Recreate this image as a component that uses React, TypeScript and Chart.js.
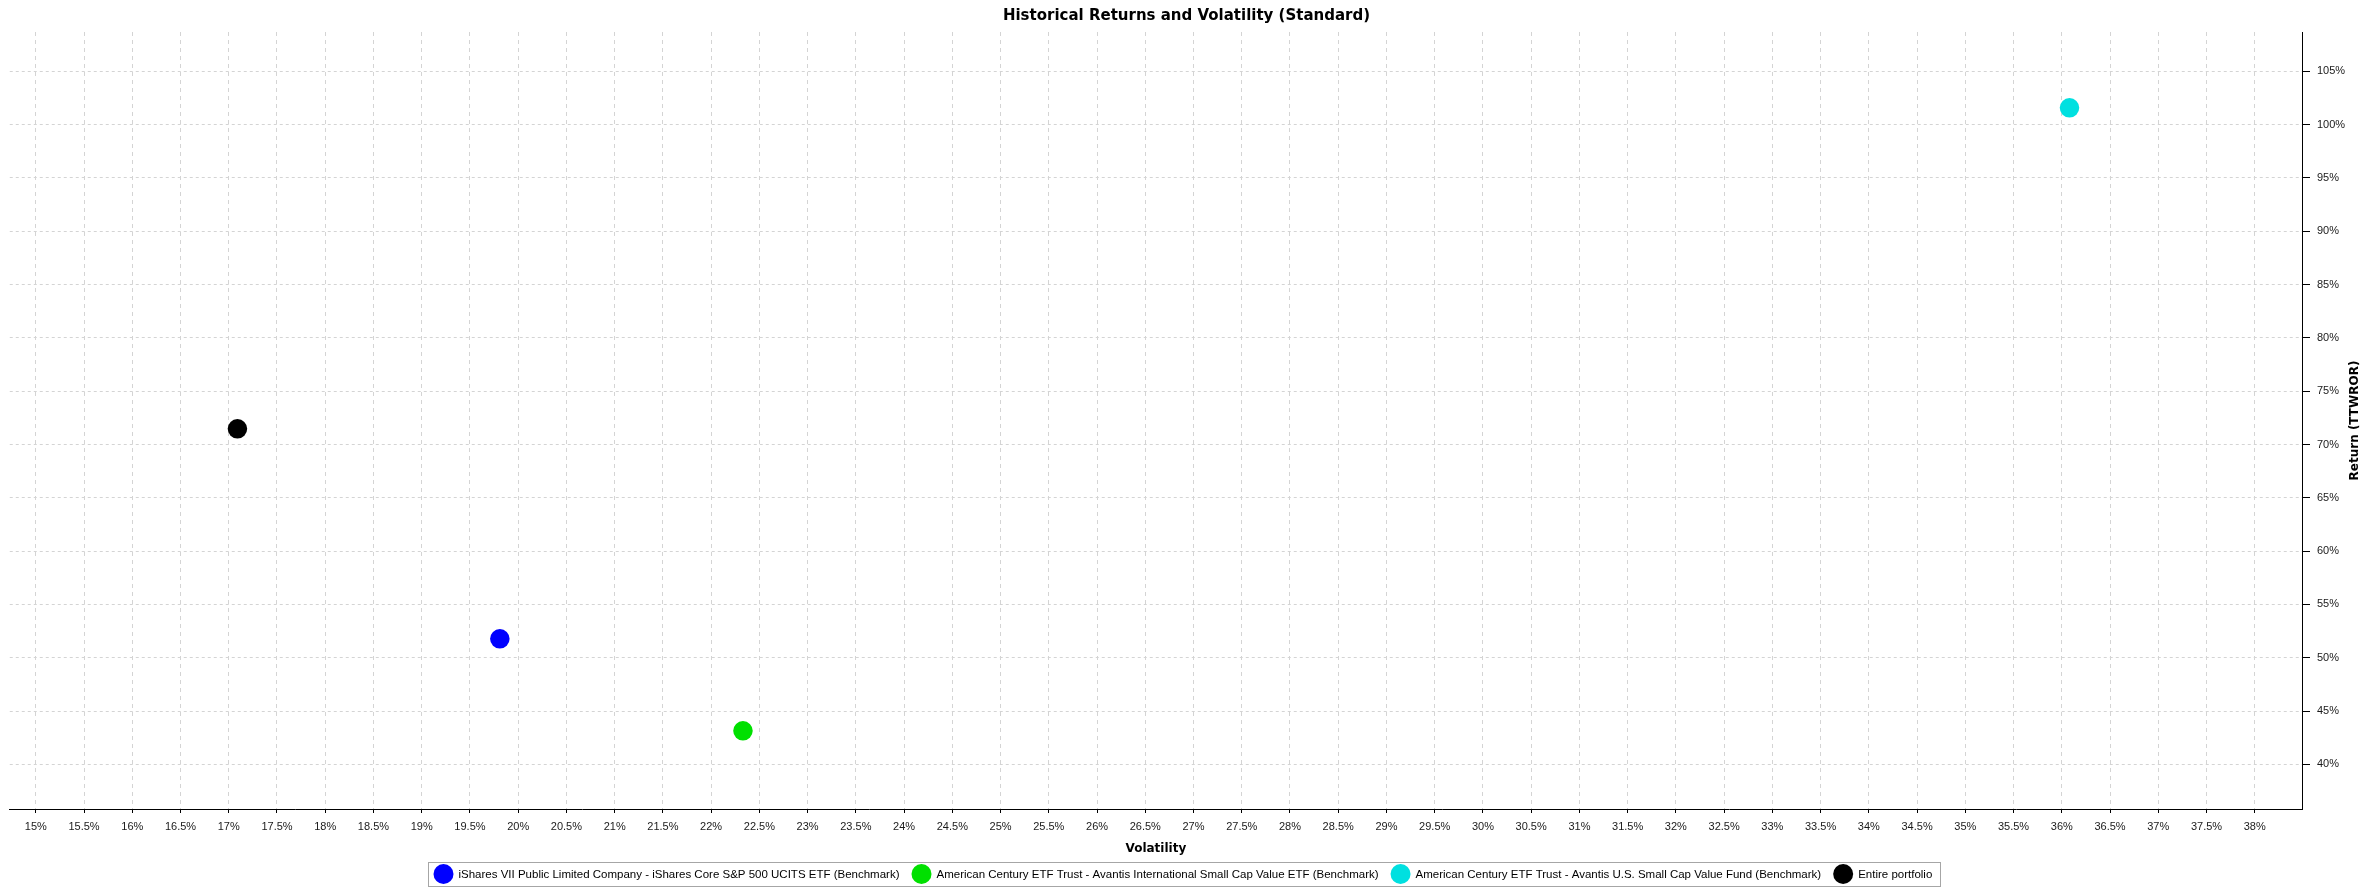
import { useEffect, useRef } from "react"
import { Chart, registerables } from "chart.js"

Chart.register(...registerables)

// series, in legend order
const seriesLabels = [
  "iShares VII Public Limited Company - iShares Core S&P 500 UCITS ETF (Benchmark)",
  "American Century ETF Trust - Avantis International Small Cap Value ETF (Benchmark)",
  "American Century ETF Trust - Avantis U.S. Small Cap Value Fund (Benchmark)",
  "Entire portfolio",
]
const seriesColors = ["#0000ff", "#00e000", "#00e0e0", "#000000"]
const volatility = [19.81, 22.33, 36.08, 17.09] // %
const returns = [51.77, 43.14, 101.58, 71.47] // %

// axis ranges
const xMin = 14.73
const xMax = 38.49
const xStep = 0.5
const yMin = 35.81
const yMax = 108.69
const yStep = 5

const chartTitle = "Historical Returns and Volatility (Standard)"
const xTitle = "Volatility"
const yTitle = "Return (TTWROR)"

const tickFont = { family: "'Liberation Sans', Arial, sans-serif", size: 11 }
const boldFont = "'DejaVu Sans', Verdana, sans-serif"

// y title reads bottom-to-top, which chart.js does not do on a right axis
const yTitlePlugin = {
  id: "yTitleLeftRotated",
  afterDraw(chart: any) {
    const { ctx, chartArea } = chart
    ctx.save()
    ctx.translate(chart.width - 13, (chartArea.top + chartArea.bottom) / 2)
    ctx.rotate(-Math.PI / 2)
    ctx.font = `bold 12px ${boldFont}`
    ctx.fillStyle = "#000"
    ctx.textAlign = "center"
    ctx.textBaseline = "middle"
    ctx.fillText(yTitle, 0, 0)
    ctx.restore()
  },
}

// legend in a thin grey box, centred under the canvas
const boxedLegendPlugin = {
  id: "boxedLegend",
  afterDraw(chart: any) {
    const ctx = chart.ctx
    const centerX = chart.width / 2
    const top = 862
    const height = 24
    const dot = 20
    const dotGap = 5
    const itemGap = 12
    const padL = 5
    const padR = 8
    ctx.save()
    ctx.font = "11.5px 'Liberation Sans', Arial, sans-serif"
    const items = chart.data.datasets.map((ds: any) => ({
      label: ds.label,
      color: ds.backgroundColor,
      w: ctx.measureText(ds.label).width,
    }))
    let total = padL + padR + itemGap * (items.length - 1)
    items.forEach((it: any) => (total += dot + dotGap + it.w))
    const left = Math.round(centerX - total / 2) + 0.5
    ctx.strokeStyle = "#a6a6a6"
    ctx.lineWidth = 1
    ctx.strokeRect(left, top + 0.5, Math.round(total), height)
    const cy = top + height / 2
    let x = left + padL
    items.forEach((it: any) => {
      ctx.fillStyle = it.color
      ctx.beginPath()
      ctx.arc(x + dot / 2, cy, dot / 2, 0, Math.PI * 2)
      ctx.fill()
      x += dot + dotGap
      ctx.fillStyle = "#000"
      ctx.textAlign = "left"
      ctx.textBaseline = "middle"
      ctx.fillText(it.label, x, cy + 0.5)
      x += it.w + itemGap
    })
    ctx.restore()
  },
}

function ReturnsVolatilityChart() {
  const canvasRef = useRef<HTMLCanvasElement>(null)
  const chartRef = useRef<Chart | null>(null)

  useEffect(() => {
    if (!canvasRef.current) return
    if (chartRef.current) chartRef.current.destroy()
    const ctx = canvasRef.current.getContext("2d")
    if (!ctx) return

    chartRef.current = new Chart(ctx, {
      type: "scatter",
      data: {
        datasets: seriesLabels.map((label, i) => ({
          label,
          data: [{ x: volatility[i], y: returns[i] }],
          backgroundColor: seriesColors[i],
          borderColor: seriesColors[i],
          pointRadius: 9.75,
          pointHoverRadius: 9.75,
          pointBorderWidth: 0,
        })),
      },
      options: {
        animation: false,
        responsive: true,
        maintainAspectRatio: false,
        layout: { padding: { left: 5, right: 0, top: 0, bottom: 34 } },
        plugins: {
          legend: { display: false },
          tooltip: { enabled: false },
          title: {
            display: true,
            text: chartTitle,
            color: "#000",
            font: { family: boldFont, size: 15, weight: "bold" },
            padding: { top: 7, bottom: 7 },
          },
        },
        scales: {
          x: {
            type: "linear",
            position: "bottom",
            min: xMin,
            max: xMax,
            ticks: {
              stepSize: xStep,
              includeBounds: false,
              autoSkip: false,
              maxRotation: 0,
              padding: 7,
              color: "#1a1a1a",
              font: tickFont,
              callback: (v: any) => `${Math.round(Number(v) * 10) / 10}%`,
            },
            grid: { color: "#d4d4d4", tickColor: "#000", tickLength: 4, tickWidth: 1 },
            border: { color: "#000", width: 1, dash: [4, 4] },
            title: {
              display: true,
              text: xTitle,
              color: "#000",
              font: { family: boldFont, size: 12, weight: "bold" },
              padding: { top: 0, bottom: 2 },
            },
            afterFit: (scale: any) => {
              scale.height = 49
            },
          },
          y: {
            type: "linear",
            position: "right",
            min: yMin,
            max: yMax,
            ticks: {
              stepSize: yStep,
              includeBounds: false,
              padding: 7,
              color: "#1a1a1a",
              font: tickFont,
              callback: (v: any) => `${v}%`,
            },
            grid: { color: "#d4d4d4", tickColor: "#000", tickLength: 8, tickWidth: 1 },
            border: { color: "#000", width: 1, dash: [3, 3] },
            afterFit: (scale: any) => {
              scale.width = 66
            },
          },
        },
      },
      plugins: [yTitlePlugin, boxedLegendPlugin],
    })

    return () => {
      if (chartRef.current) {
        chartRef.current.destroy()
        chartRef.current = null
      }
    }
  }, [])

  return <canvas ref={canvasRef} />
}

export default function App() {
  return (
    <div style={{ position: "fixed", left: 0, top: 0, width: 2368, height: 892, background: "#fff" }}>
      <ReturnsVolatilityChart />
    </div>
  )
}
